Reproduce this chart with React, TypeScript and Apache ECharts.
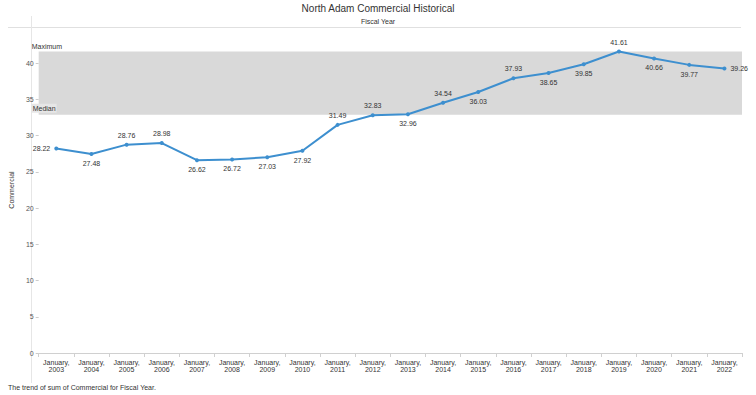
import React, { useEffect, useRef } from "react";
import * as echarts from "echarts";

const years = ["2003","2004","2005","2006","2007","2008","2009","2010","2011","2012","2013","2014","2015","2016","2017","2018","2019","2020","2021","2022"];
const commercial = [28.22,27.48,28.76,28.98,26.62,26.72,27.03,27.92,31.49,32.83,32.96,34.54,36.03,37.93,38.65,39.85,41.61,40.66,39.77,39.26];
const labelPositions = ["left","bottom","top","top","bottom","bottom","bottom","bottom","top","top","bottom","top","bottom","top","bottom","bottom","top","bottom","bottom","right"];
const yTicks = [0, 5, 10, 15, 20, 25, 30, 35, 40, 45];

const FONT = "Liberation Sans, Arial, sans-serif";

function median(vals: number[]) {
  const s = [...vals].sort((a, b) => a - b);
  const m = Math.floor(s.length / 2);
  return s.length % 2 ? s[m] : (s[m - 1] + s[m]) / 2;
}

export default function App() {
  const ref = useRef<HTMLDivElement>(null);
  useEffect(() => {
    if (!ref.current) return;
    const chart = echarts.init(ref.current, null, { renderer: "svg" });
    const maxV = Math.max(...commercial);
    const medV = median(commercial);
    chart.setOption({
      animation: false,
      textStyle: { fontFamily: FONT },
      title: [
        { text: "North Adam Commercial Historical", left: "center", top: 3, padding: 0, textStyle: { fontSize: 10, fontWeight: "normal", color: "#333", fontFamily: FONT } },
        { text: "Fiscal Year", left: "center", top: 18, padding: 0, textStyle: { fontSize: 7, fontWeight: "normal", color: "#333", fontFamily: FONT } },
        { text: "The trend of sum of Commercial for Fiscal Year.", left: 8, top: 384, padding: 0, textStyle: { fontSize: 7, fontWeight: "normal", color: "#333", fontFamily: FONT } },
      ],
      graphic: [
        { type: "line", shape: { x1: 8, y1: 27.5, x2: 741, y2: 27.5 }, style: { stroke: "#e0e0e0", lineWidth: 1 } },
        { type: "line", shape: { x1: 31.5, y1: 16, x2: 31.5, y2: 383 }, style: { stroke: "#e6e6e6", lineWidth: 1 } },
      ],
      grid: { left: 31, right: 14, top: 27, bottom: 42 },
      xAxis: {
        type: "category",
        data: years,
        offset: 4,
        axisLine: { lineStyle: { color: "#d0d0d0" } },
        axisTick: { show: true, length: 4, lineStyle: { color: "#d0d0d0" } },
        axisLabel: { fontSize: 7, color: "#333", lineHeight: 7, margin: 2, interval: 0, formatter: (v: string) => "January,\n" + v },
      },
      yAxis: {
        type: "value",
        min: yTicks[0],
        max: yTicks[yTicks.length - 1],
        interval: 5,
        name: "Commercial",
        nameLocation: "middle",
        nameGap: 16,
        nameTextStyle: { fontSize: 7, color: "#333" },
        axisLine: { show: false },
        axisTick: { show: true, length: 3, lineStyle: { color: "#ccc" } },
        splitLine: { show: false },
        axisLabel: { fontSize: 7, color: "#555", margin: 5, showMaxLabel: false },
      },
      series: [
        {
          type: "line",
          data: commercial.map((v, i) => ({ value: v, label: { position: labelPositions[i] } })),
          lineStyle: { color: "#3d8fcf", width: 2 },
          itemStyle: { color: "#3d8fcf" },
          symbol: "circle",
          symbolSize: 4,
          label: { show: true, fontSize: 7, color: "#333", distance: 4, formatter: (p: any) => p.value.toFixed(2) },
          markArea: {
            silent: true,
            itemStyle: { color: "#d9d9d9" },
            data: [[{ yAxis: medV }, { yAxis: maxV }]],
          },
          markLine: {
            silent: true,
            symbol: "none",
            lineStyle: { width: 1, color: "rgba(0,0,0,0)", type: "solid" },
            label: { show: true, position: "insideStartTop", fontSize: 7, color: "#333", distance: [-7, 2] },
            data: [
              { yAxis: maxV, label: { formatter: "Maximum" } },
              { yAxis: medV, label: { formatter: "Median", backgroundColor: "#e6e6e6", padding: [1, 1] } },
            ],
          },
        },
      ],
    });
    return () => chart.dispose();
  }, []);
  return <div ref={ref} style={{ width: 756, height: 395, position: "absolute", left: 0, top: 0 }} />;
}
